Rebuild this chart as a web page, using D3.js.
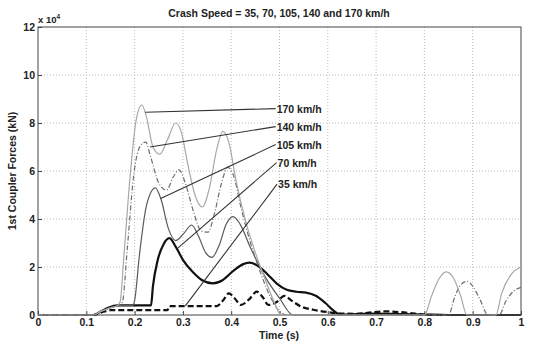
<!DOCTYPE html>
<html><head><meta charset="utf-8">
<script src="https://cdn.jsdelivr.net/npm/d3@7"></script>
<style>
body{margin:0;background:#fff;}
text{font-family:"Liberation Sans",Arial,sans-serif;font-weight:bold;fill:#222;}
</style></head>
<body><svg id="c" width="545" height="344"></svg>
<script>
// Time (s) and force (x 10^4 kN) pairs for each crash speed
const s170 = [[0,0],[0.115,0],[0.13,0.15],[0.15,0.3],[0.165,0.4],[0.17,0.55],[0.178,2.5],[0.19,5.6],[0.203,8.1],[0.215,8.75],[0.224,8.3],[0.238,7.0],[0.252,6.7],[0.268,7.3],[0.285,8.0],[0.297,7.6],[0.31,6.3],[0.325,5.0],[0.34,4.5],[0.355,5.3],[0.37,6.9],[0.383,7.65],[0.395,7.2],[0.41,5.6],[0.43,3.9],[0.45,2.6],[0.47,1.5],[0.49,0.5],[0.503,0],[0.8,0],[0.815,0.8],[0.83,1.5],[0.845,1.8],[0.86,1.55],[0.875,0.8],[0.888,0],[0.948,0],[0.96,0.9],[0.98,1.7],[1,2.0]];
const s140 = [[0,0],[0.115,0],[0.13,0.15],[0.15,0.3],[0.17,0.4],[0.175,0.55],[0.185,2.8],[0.198,5.8],[0.212,7.05],[0.223,7.2],[0.233,6.6],[0.25,5.5],[0.266,5.2],[0.28,5.75],[0.292,6.05],[0.305,5.5],[0.322,4.3],[0.338,3.5],[0.352,3.45],[0.365,4.2],[0.38,5.5],[0.393,6.15],[0.405,5.8],[0.42,4.5],[0.44,3.0],[0.46,1.8],[0.48,0.8],[0.5,0.15],[0.515,0],[0.85,0],[0.862,0.7],[0.875,1.25],[0.888,1.4],[0.9,1.2],[0.915,0.65],[0.932,0],[0.955,0],[0.968,0.55],[0.985,1.0],[1,1.15]];
const s105 = [[0,0],[0.115,0],[0.13,0.15],[0.15,0.3],[0.17,0.4],[0.196,0.4],[0.2,0.6],[0.21,2.5],[0.225,4.6],[0.243,5.3],[0.255,4.8],[0.27,3.6],[0.285,3.1],[0.302,3.4],[0.318,3.75],[0.332,3.3],[0.347,2.6],[0.36,2.4],[0.375,2.9],[0.39,3.8],[0.404,4.1],[0.418,3.8],[0.44,2.8],[0.47,1.6],[0.5,0.7],[0.528,0],[1,0]];
const s70 = [[0,0],[0.115,0],[0.13,0.15],[0.145,0.3],[0.165,0.4],[0.234,0.4],[0.238,1.2],[0.248,2.3],[0.26,2.95],[0.272,3.2],[0.285,2.85],[0.3,2.3],[0.32,1.8],[0.34,1.45],[0.362,1.32],[0.382,1.45],[0.405,1.85],[0.425,2.12],[0.438,2.18],[0.455,2.05],[0.475,1.7],[0.495,1.3],[0.515,1.05],[0.535,0.97],[0.555,0.93],[0.575,0.8],[0.595,0.5],[0.612,0.18],[0.625,0.02],[0.66,0.04],[0.7,0.06],[0.75,0.04],[0.8,0.02],[0.85,0],[1,0]];
const s35 = [[0,0],[0.115,0],[0.13,0.1],[0.15,0.2],[0.268,0.2],[0.272,0.37],[0.37,0.37],[0.383,0.6],[0.395,0.9],[0.407,0.7],[0.42,0.42],[0.437,0.65],[0.453,0.97],[0.465,0.75],[0.477,0.42],[0.495,0.55],[0.51,0.8],[0.525,0.6],[0.545,0.35],[0.57,0.22],[0.6,0.12],[0.63,0.06],[0.66,0.05],[0.69,0.11],[0.72,0.15],[0.75,0.12],[0.78,0.06],[0.81,0.0],[1,0]];

const xTicks = [0,0.1,0.2,0.3,0.4,0.5,0.6,0.7,0.8,0.9,1];
const xTickLabels = ["0","0.1","0.2","0.3","0.4","0.5","0.6","0.7","0.8","0.9","1"];
const yTicks = [0,2,4,6,8,10,12];
const yTickLabels = ["0","2","4","6","8","10","12"];
const seriesNames = ["170 km/h","140 km/h","105 km/h","70 km/h","35 km/h"];
// leader anchors: [time, force] on curve, and label position [time, force]
const leaderFrom = [[0.222,8.45],[0.232,7.0],[0.254,4.85],[0.29,2.8],[0.305,0.38]];
const leaderTo = [[0.492,8.6],[0.492,7.85],[0.492,7.1],[0.494,6.35],[0.495,5.45]];

const svg = d3.select("#c");
const L=38, R=521, T=27, B=315;
const x = d3.scaleLinear().domain([0,1]).range([L,R]);
const y = d3.scaleLinear().domain([0,12]).range([B,T]);

// grid
svg.append("g").selectAll("line").data(xTicks.slice(1,-1)).join("line")
  .attr("x1",d=>x(d)).attr("x2",d=>x(d)).attr("y1",T).attr("y2",B)
  .attr("stroke","#bbb").attr("stroke-width",1).attr("stroke-dasharray","1,2");
svg.append("g").selectAll("line").data(yTicks.slice(1,-1)).join("line")
  .attr("y1",d=>y(d)).attr("y2",d=>y(d)).attr("x1",L).attr("x2",R)
  .attr("stroke","#bbb").attr("stroke-width",1).attr("stroke-dasharray","1,2");

// frame
svg.append("rect").attr("x",L).attr("y",T).attr("width",R-L).attr("height",B-T)
  .attr("fill","none").attr("stroke","#444").attr("stroke-width",1);

// axes
const xa = svg.append("g").attr("transform",`translate(0,${B})`)
  .call(d3.axisBottom(x).tickValues(xTicks).tickFormat((d,i)=>xTickLabels[i]).tickSize(-4).tickPadding(4));
const ya = svg.append("g").attr("transform",`translate(${L},0)`)
  .call(d3.axisLeft(y).tickValues(yTicks).tickFormat((d,i)=>yTickLabels[i]).tickSize(-4).tickPadding(3));
[xa,ya].forEach(a=>{a.select(".domain").remove();a.selectAll("line").attr("stroke","#444");
  a.selectAll("text").attr("font-size","10.5px").attr("font-weight","bold").attr("fill","#222").attr("font-family","Liberation Sans, Arial, sans-serif");});

const line = d3.line().x(d=>x(d[0])).y(d=>y(d[1])).curve(d3.curveMonotoneX);
const styles = [
  {data:s170, color:"#a8a8a8", w:1.2, dash:null},
  {data:s140, color:"#6e6e6e", w:1.2, dash:"5,2,1,2"},
  {data:s105, color:"#5a5a5a", w:1.2, dash:null},
  {data:s70, color:"#111", w:2.2, dash:null},
  {data:s35, color:"#111", w:2.2, dash:"6,3"}
];
styles.slice().reverse().forEach(s=>{
  svg.append("path").datum(s.data).attr("d",line).attr("fill","none")
    .attr("stroke",s.color).attr("stroke-width",s.w)
    .attr("stroke-dasharray",s.dash);
});

// leaders + labels
seriesNames.forEach((n,i)=>{
  svg.append("line").attr("x1",x(leaderFrom[i][0])).attr("y1",y(leaderFrom[i][1]))
    .attr("x2",x(leaderTo[i][0])).attr("y2",y(leaderTo[i][1]))
    .attr("stroke","#333").attr("stroke-width",1.1);
  svg.append("text").attr("x",x(leaderTo[i][0])+1).attr("y",y(leaderTo[i][1])+4)
    .attr("font-size","10.5px").text(n);
});

// title and labels
svg.append("text").attr("x",279).attr("y",17).attr("text-anchor","middle")
  .attr("font-size","10.5px").text("Crash Speed = 35, 70, 105, 140 and 170 km/h");
const ex = svg.append("text").attr("x",38).attr("y",23).attr("font-size","9.5px");
ex.append("tspan").text("x 10");
ex.append("tspan").attr("dy",-4).attr("font-size","6.5px").text("4");
svg.append("text").attr("x",279).attr("y",339).attr("text-anchor","middle")
  .attr("font-size","10.5px").text("Time (s)");
svg.append("text").attr("transform",`translate(16,${(T+B)/2}) rotate(-90)`)
  .attr("text-anchor","middle").attr("font-size","10.5px").text("1st Coupler Forces (kN)");
</script></body></html>
